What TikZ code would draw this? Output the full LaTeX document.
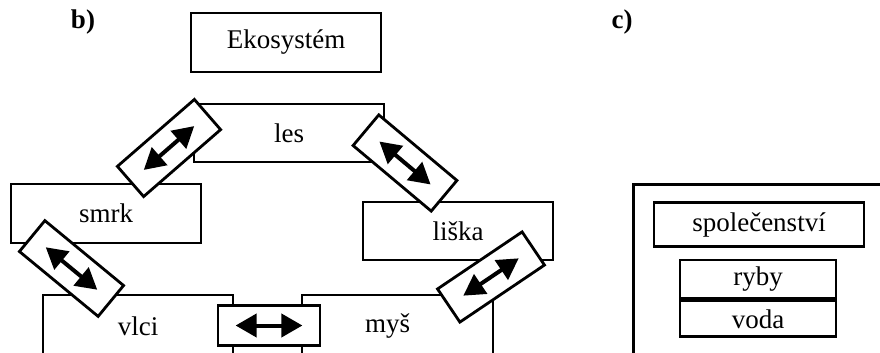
\documentclass[tikz,border=0pt]{standalone}
\usepackage{fontspec}
\setmainfont{Liberation Serif}
\usetikzlibrary{arrows.meta}

\tikzset{
  box/.style={draw, line width=2.8pt, inner sep=0pt, minimum width=190pt, minimum height=59pt},
  link/.style={draw, fill=white, line width=2.8pt, inner sep=0pt, minimum width=102pt, minimum height=40pt},
  dbl/.style={{Triangle[length=21pt,width=23pt]}-{Triangle[length=21pt,width=23pt]}, line width=4pt, shorten >=19pt, shorten <=19pt},
  every node/.append style={font=\fontsize{27}{30}\selectfont}
}

\begin{document}
\begin{tikzpicture}[x=1pt, y=-1pt]
\useasboundingbox (0,0) rectangle (880,353);
\clip (0,0) rectangle (880,353);
% panel b
\node [font=\fontsize{27}{30}\selectfont\bfseries] (b) at (83,22) {b)};
\node [box] (eko) at (286,42.5) {Ekosystém};
\node [box, minimum height=58pt] (les) at (289,133) {les};
\node [box] (smrk) at (106,213.5) {smrk};
\node [box, minimum height=58pt] (liska) at (458,231) {liška};
\node [box, minimum height=62pt] (vlci) at (138,326) {vlci};
\node [box, minimum width=191pt, minimum height=62pt] (mys) at (397.5,326) {myš\hspace*{20pt}};
% links
\node [link, rotate=41] (l1) at (169,148) {};
\node [link, rotate=-40] (l2) at (405,163) {};
\node [link, rotate=-39.5] (l3) at (71.5,268.5) {};
\node [link, rotate=34] (l4) at (491,277) {};
\node [link] (l5) at (269,325.5) {};
\draw [dbl] (l1.west) -- (l1.east);
\draw [dbl] (l2.west) -- (l2.east);
\draw [dbl] (l3.west) -- (l3.east);
\draw [dbl] (l4.west) -- (l4.east);
\draw [dbl] (l5.west) -- (l5.east);
% panel c
\node [font=\fontsize{27}{30}\selectfont\bfseries] (c) at (622,22) {c)};
\node [box, anchor=north west, minimum width=300pt, minimum height=220pt] (spol) at (632,183) {};
\node [box, minimum width=210pt, minimum height=44pt] (spolec) at (759,224.5) {společenství};
\node [box, minimum width=156pt, minimum height=38pt] (ryby) at (758,279) {ryby};
\node [box, minimum width=156pt, minimum height=36pt, anchor=north] (voda) at (ryby.south) {voda};
\end{tikzpicture}
\end{document}
